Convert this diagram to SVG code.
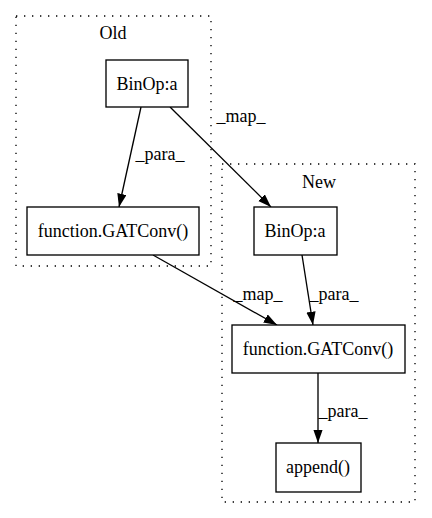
<svg xmlns="http://www.w3.org/2000/svg" width="432" height="518" viewBox="0 0 432 518">
<style>
text{font-family:"Liberation Serif","Times New Roman",serif;font-size:18px;fill:#000}
.cl{fill:none;stroke:#000;stroke-width:1.33;stroke-dasharray:1.33,6.67}
.nd{fill:#fff;stroke:#000;stroke-width:1.33}
.ed{fill:none;stroke:#000;stroke-width:1.33;marker-end:url(#ah)}
</style>
<defs>
<marker id="ah" markerUnits="userSpaceOnUse" markerWidth="15" markerHeight="11" refX="13.3" refY="4.67" orient="auto">
<path d="M0,0 L13.3,4.67 L0,9.33 z" fill="#000"/>
</marker>
</defs>
<rect width="432" height="518" fill="#fff"/>
<g id="cluster_old">
<rect class="cl" x="16" y="16" width="195" height="250"/>
<text x="113" y="39" text-anchor="middle">Old</text>
</g>
<g id="cluster_new">
<rect class="cl" x="222" y="164" width="193" height="338"/>
<text x="319" y="188" text-anchor="middle">New</text>
</g>
<g id="connectors">
<path class="ed" d="M141,107 L119,207"/>
<text x="160" y="160" text-anchor="middle">_para_</text>
<path class="ed" d="M170,107 L271,207"/>
<text x="241" y="122" text-anchor="middle">_map_</text>
<path class="ed" d="M153,255 L277,325"/>
<text x="258" y="300" text-anchor="middle">_map_</text>
<path class="ed" d="M302,255 L313,325"/>
<text x="334" y="300" text-anchor="middle">_para_</text>
<path class="ed" d="M318,373 L318,443"/>
<text x="343" y="417" text-anchor="middle">_para_</text>
</g>
<g id="old_binop">
<rect class="nd" x="106" y="60" width="82" height="47"/>
<text x="147" y="90" text-anchor="middle">BinOp:a</text>
</g>
<g id="old_gatconv">
<rect class="nd" x="27" y="207" width="172" height="48"/>
<text x="113" y="237" text-anchor="middle">function.GATConv()</text>
</g>
<g id="new_binop">
<rect class="nd" x="254" y="207" width="83" height="48"/>
<text x="295" y="237" text-anchor="middle">BinOp:a</text>
</g>
<g id="new_gatconv">
<rect class="nd" x="232" y="325" width="173" height="48"/>
<text x="318" y="355" text-anchor="middle">function.GATConv()</text>
</g>
<g id="new_append">
<rect class="nd" x="276" y="443" width="85" height="49"/>
<text x="318" y="473" text-anchor="middle">append()</text>
</g>
</svg>
